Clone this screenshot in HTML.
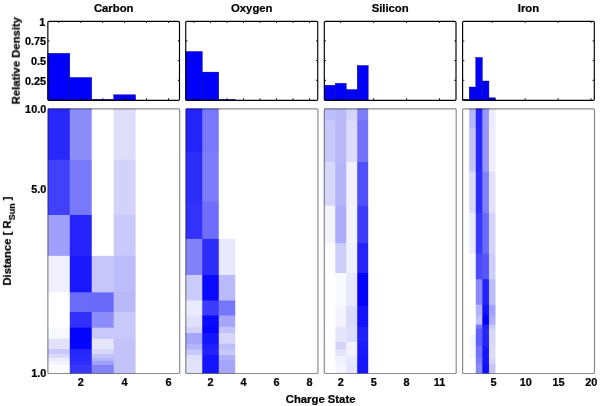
<!DOCTYPE html>
<html lang="en"><head><meta charset="utf-8"><title>Charge state distributions</title>
<style>html,body{margin:0;padding:0;background:#fff}body{width:600px;height:406px;overflow:hidden}svg{display:block}text{font-family:"Liberation Sans",Arial,Helvetica,sans-serif;font-weight:bold;fill:#000}.t{filter:blur(0.25px);stroke:#000;stroke-width:0.22px}</style>
</head><body>
<svg width="600" height="406" viewBox="0 0 600 406">
<defs><linearGradient id="gC0" x1="0" y1="0" x2="0" y2="1"><stop offset="0.0000" stop-color="#2828fa"/><stop offset="0.1921" stop-color="#2828fa"/><stop offset="0.1948" stop-color="#4141fa"/><stop offset="0.4007" stop-color="#4141fa"/><stop offset="0.4034" stop-color="#a0a0fa"/><stop offset="0.5545" stop-color="#a0a0fa"/><stop offset="0.5572" stop-color="#f0f0ff"/><stop offset="0.6929" stop-color="#f0f0ff"/><stop offset="0.6955" stop-color="#ffffff"/><stop offset="0.7673" stop-color="#ffffff"/><stop offset="0.7699" stop-color="#ffffff"/><stop offset="0.8258" stop-color="#ffffff"/><stop offset="0.8284" stop-color="#f8f8ff"/><stop offset="0.8677" stop-color="#f8f8ff"/><stop offset="0.8703" stop-color="#e1e1fa"/><stop offset="0.9066" stop-color="#e1e1fa"/><stop offset="0.9092" stop-color="#c8c8fa"/><stop offset="0.9254" stop-color="#c8c8fa"/><stop offset="0.9281" stop-color="#d7d7fa"/><stop offset="0.9394" stop-color="#d7d7fa"/><stop offset="0.9421" stop-color="#ebebff"/><stop offset="0.9519" stop-color="#ebebff"/><stop offset="0.9545" stop-color="#f5f5ff"/><stop offset="0.9670" stop-color="#f5f5ff"/><stop offset="0.9696" stop-color="#fafaff"/><stop offset="0.9994" stop-color="#fafaff"/></linearGradient><linearGradient id="gC1" x1="0" y1="0" x2="0" y2="1"><stop offset="0.0000" stop-color="#8c8cfa"/><stop offset="0.1921" stop-color="#8c8cfa"/><stop offset="0.1948" stop-color="#7878fa"/><stop offset="0.4007" stop-color="#7878fa"/><stop offset="0.4034" stop-color="#2323fa"/><stop offset="0.5545" stop-color="#2323fa"/><stop offset="0.5572" stop-color="#1919ff"/><stop offset="0.6929" stop-color="#1919ff"/><stop offset="0.6955" stop-color="#6c6cfa"/><stop offset="0.7673" stop-color="#6c6cfa"/><stop offset="0.7699" stop-color="#3030fa"/><stop offset="0.8258" stop-color="#3030fa"/><stop offset="0.8284" stop-color="#0505ff"/><stop offset="0.8677" stop-color="#0505ff"/><stop offset="0.8703" stop-color="#0505ff"/><stop offset="0.9066" stop-color="#0505ff"/><stop offset="0.9092" stop-color="#2323fa"/><stop offset="0.9254" stop-color="#2323fa"/><stop offset="0.9281" stop-color="#2828fa"/><stop offset="0.9394" stop-color="#2828fa"/><stop offset="0.9421" stop-color="#2828fa"/><stop offset="0.9519" stop-color="#2828fa"/><stop offset="0.9545" stop-color="#2d2dfa"/><stop offset="0.9670" stop-color="#2d2dfa"/><stop offset="0.9696" stop-color="#3737fa"/><stop offset="0.9994" stop-color="#3737fa"/></linearGradient><linearGradient id="gC2" x1="0" y1="0" x2="0" y2="1"><stop offset="0.0000" stop-color="#ffffff"/><stop offset="0.1921" stop-color="#ffffff"/><stop offset="0.1948" stop-color="#ffffff"/><stop offset="0.4007" stop-color="#ffffff"/><stop offset="0.4034" stop-color="#ffffff"/><stop offset="0.5545" stop-color="#ffffff"/><stop offset="0.5572" stop-color="#c6c6fa"/><stop offset="0.6929" stop-color="#c6c6fa"/><stop offset="0.6955" stop-color="#6969fa"/><stop offset="0.7673" stop-color="#6969fa"/><stop offset="0.7699" stop-color="#8c8cfa"/><stop offset="0.8258" stop-color="#8c8cfa"/><stop offset="0.8284" stop-color="#c8c8fa"/><stop offset="0.8677" stop-color="#c8c8fa"/><stop offset="0.8703" stop-color="#e6e6fa"/><stop offset="0.9066" stop-color="#e6e6fa"/><stop offset="0.9092" stop-color="#d7d7fa"/><stop offset="0.9254" stop-color="#d7d7fa"/><stop offset="0.9281" stop-color="#c3c3fa"/><stop offset="0.9394" stop-color="#c3c3fa"/><stop offset="0.9421" stop-color="#b4b4fa"/><stop offset="0.9519" stop-color="#b4b4fa"/><stop offset="0.9545" stop-color="#a0a0fa"/><stop offset="0.9670" stop-color="#a0a0fa"/><stop offset="0.9696" stop-color="#8282fa"/><stop offset="0.9994" stop-color="#8282fa"/></linearGradient><linearGradient id="gC3" x1="0" y1="0" x2="0" y2="1"><stop offset="0.0000" stop-color="#dedefa"/><stop offset="0.1921" stop-color="#dedefa"/><stop offset="0.1948" stop-color="#d2d2fa"/><stop offset="0.4007" stop-color="#d2d2fa"/><stop offset="0.4034" stop-color="#c8c8fa"/><stop offset="0.5545" stop-color="#c8c8fa"/><stop offset="0.5572" stop-color="#bcbcfa"/><stop offset="0.6929" stop-color="#bcbcfa"/><stop offset="0.6955" stop-color="#b9b9fa"/><stop offset="0.7673" stop-color="#b9b9fa"/><stop offset="0.7699" stop-color="#c8c8fa"/><stop offset="0.8258" stop-color="#c8c8fa"/><stop offset="0.8284" stop-color="#c8c8fa"/><stop offset="0.8677" stop-color="#c8c8fa"/><stop offset="0.8703" stop-color="#c3c3fa"/><stop offset="0.9066" stop-color="#c3c3fa"/><stop offset="0.9092" stop-color="#c3c3fa"/><stop offset="0.9254" stop-color="#c3c3fa"/><stop offset="0.9281" stop-color="#c3c3fa"/><stop offset="0.9394" stop-color="#c3c3fa"/><stop offset="0.9421" stop-color="#c3c3fa"/><stop offset="0.9519" stop-color="#c3c3fa"/><stop offset="0.9545" stop-color="#c3c3fa"/><stop offset="0.9670" stop-color="#c3c3fa"/><stop offset="0.9696" stop-color="#c3c3fa"/><stop offset="0.9994" stop-color="#c3c3fa"/></linearGradient><linearGradient id="gO0" x1="0" y1="0" x2="0" y2="1"><stop offset="0.0000" stop-color="#2323fa"/><stop offset="0.1619" stop-color="#2323fa"/><stop offset="0.1646" stop-color="#2d2dfa"/><stop offset="0.3488" stop-color="#2d2dfa"/><stop offset="0.3515" stop-color="#3232fa"/><stop offset="0.4904" stop-color="#3232fa"/><stop offset="0.4930" stop-color="#8282fa"/><stop offset="0.6272" stop-color="#8282fa"/><stop offset="0.6299" stop-color="#cbcbfa"/><stop offset="0.7235" stop-color="#cbcbfa"/><stop offset="0.7261" stop-color="#ebebff"/><stop offset="0.7801" stop-color="#ebebff"/><stop offset="0.7827" stop-color="#e1e1fa"/><stop offset="0.8226" stop-color="#e1e1fa"/><stop offset="0.8252" stop-color="#d2d2fa"/><stop offset="0.8462" stop-color="#d2d2fa"/><stop offset="0.8488" stop-color="#a5a5fa"/><stop offset="0.8867" stop-color="#a5a5fa"/><stop offset="0.8894" stop-color="#b4b4fa"/><stop offset="0.9085" stop-color="#b4b4fa"/><stop offset="0.9111" stop-color="#c8c8fa"/><stop offset="0.9292" stop-color="#c8c8fa"/><stop offset="0.9319" stop-color="#dedefa"/><stop offset="0.9481" stop-color="#dedefa"/><stop offset="0.9507" stop-color="#e2e2fa"/><stop offset="0.9994" stop-color="#e2e2fa"/></linearGradient><linearGradient id="gO1" x1="0" y1="0" x2="0" y2="1"><stop offset="0.0000" stop-color="#7878fa"/><stop offset="0.1619" stop-color="#7878fa"/><stop offset="0.1646" stop-color="#7d7dfa"/><stop offset="0.3488" stop-color="#7d7dfa"/><stop offset="0.3515" stop-color="#6e6efa"/><stop offset="0.4904" stop-color="#6e6efa"/><stop offset="0.4930" stop-color="#2d2dfa"/><stop offset="0.6272" stop-color="#2d2dfa"/><stop offset="0.6299" stop-color="#0a0aff"/><stop offset="0.7235" stop-color="#0a0aff"/><stop offset="0.7261" stop-color="#3c3cfa"/><stop offset="0.7801" stop-color="#3c3cfa"/><stop offset="0.7827" stop-color="#0a0aff"/><stop offset="0.8226" stop-color="#0a0aff"/><stop offset="0.8252" stop-color="#0505ff"/><stop offset="0.8462" stop-color="#0505ff"/><stop offset="0.8488" stop-color="#1414ff"/><stop offset="0.8867" stop-color="#1414ff"/><stop offset="0.8894" stop-color="#1e1efa"/><stop offset="0.9085" stop-color="#1e1efa"/><stop offset="0.9111" stop-color="#2323fa"/><stop offset="0.9292" stop-color="#2323fa"/><stop offset="0.9319" stop-color="#1414ff"/><stop offset="0.9481" stop-color="#1414ff"/><stop offset="0.9507" stop-color="#1414ff"/><stop offset="0.9994" stop-color="#1414ff"/></linearGradient><linearGradient id="gO2" x1="0" y1="0" x2="0" y2="1"><stop offset="0.0000" stop-color="#ffffff"/><stop offset="0.1619" stop-color="#ffffff"/><stop offset="0.1646" stop-color="#ffffff"/><stop offset="0.3488" stop-color="#ffffff"/><stop offset="0.3515" stop-color="#ffffff"/><stop offset="0.4904" stop-color="#ffffff"/><stop offset="0.4930" stop-color="#e8e8ff"/><stop offset="0.6272" stop-color="#e8e8ff"/><stop offset="0.6299" stop-color="#babafa"/><stop offset="0.7235" stop-color="#babafa"/><stop offset="0.7261" stop-color="#7676fa"/><stop offset="0.7801" stop-color="#7676fa"/><stop offset="0.7827" stop-color="#a5a5fa"/><stop offset="0.8226" stop-color="#a5a5fa"/><stop offset="0.8252" stop-color="#c3c3fa"/><stop offset="0.8462" stop-color="#c3c3fa"/><stop offset="0.8488" stop-color="#d7d7fa"/><stop offset="0.8867" stop-color="#d7d7fa"/><stop offset="0.8894" stop-color="#bebefa"/><stop offset="0.9085" stop-color="#bebefa"/><stop offset="0.9111" stop-color="#c8c8fa"/><stop offset="0.9292" stop-color="#c8c8fa"/><stop offset="0.9319" stop-color="#afaffa"/><stop offset="0.9481" stop-color="#afaffa"/><stop offset="0.9507" stop-color="#a5a5fa"/><stop offset="0.9994" stop-color="#a5a5fa"/></linearGradient><linearGradient id="gS0" x1="0" y1="0" x2="0" y2="1"><stop offset="0.0000" stop-color="#bebefa"/><stop offset="0.0440" stop-color="#bebefa"/><stop offset="0.0466" stop-color="#c8c8fa"/><stop offset="0.2006" stop-color="#c8c8fa"/><stop offset="0.2033" stop-color="#d7d7fa"/><stop offset="0.3658" stop-color="#d7d7fa"/><stop offset="0.3684" stop-color="#f5f5ff"/><stop offset="0.5074" stop-color="#f5f5ff"/><stop offset="0.5100" stop-color="#fdfdff"/><stop offset="0.6193" stop-color="#fdfdff"/><stop offset="0.6219" stop-color="#ffffff"/><stop offset="0.7433" stop-color="#ffffff"/><stop offset="0.7459" stop-color="#ffffff"/><stop offset="0.8226" stop-color="#ffffff"/><stop offset="0.8252" stop-color="#fdfdff"/><stop offset="0.8801" stop-color="#fdfdff"/><stop offset="0.8828" stop-color="#ffffff"/><stop offset="0.9085" stop-color="#ffffff"/><stop offset="0.9111" stop-color="#ffffff"/><stop offset="0.9339" stop-color="#ffffff"/><stop offset="0.9366" stop-color="#ffffff"/><stop offset="0.9575" stop-color="#ffffff"/><stop offset="0.9602" stop-color="#ffffff"/><stop offset="0.9994" stop-color="#ffffff"/></linearGradient><linearGradient id="gS1" x1="0" y1="0" x2="0" y2="1"><stop offset="0.0000" stop-color="#b9b9fa"/><stop offset="0.0440" stop-color="#b9b9fa"/><stop offset="0.0466" stop-color="#b9b9fa"/><stop offset="0.2006" stop-color="#b9b9fa"/><stop offset="0.2033" stop-color="#b4b4fa"/><stop offset="0.3658" stop-color="#b4b4fa"/><stop offset="0.3684" stop-color="#acacfa"/><stop offset="0.5074" stop-color="#acacfa"/><stop offset="0.5100" stop-color="#cdcdfa"/><stop offset="0.6193" stop-color="#cdcdfa"/><stop offset="0.6219" stop-color="#f8f8ff"/><stop offset="0.7433" stop-color="#f8f8ff"/><stop offset="0.7459" stop-color="#f3f3ff"/><stop offset="0.8226" stop-color="#f3f3ff"/><stop offset="0.8252" stop-color="#e4e4fa"/><stop offset="0.8801" stop-color="#e4e4fa"/><stop offset="0.8828" stop-color="#d4d4fa"/><stop offset="0.9085" stop-color="#d4d4fa"/><stop offset="0.9111" stop-color="#e4e4fa"/><stop offset="0.9339" stop-color="#e4e4fa"/><stop offset="0.9366" stop-color="#f0f0ff"/><stop offset="0.9575" stop-color="#f0f0ff"/><stop offset="0.9602" stop-color="#f5f5ff"/><stop offset="0.9994" stop-color="#f5f5ff"/></linearGradient><linearGradient id="gS2" x1="0" y1="0" x2="0" y2="1"><stop offset="0.0000" stop-color="#d4d4fa"/><stop offset="0.0440" stop-color="#d4d4fa"/><stop offset="0.0466" stop-color="#dcdcfa"/><stop offset="0.2006" stop-color="#dcdcfa"/><stop offset="0.2033" stop-color="#f0f0ff"/><stop offset="0.3658" stop-color="#f0f0ff"/><stop offset="0.3684" stop-color="#f4f4ff"/><stop offset="0.5074" stop-color="#f4f4ff"/><stop offset="0.5100" stop-color="#f2f2ff"/><stop offset="0.6193" stop-color="#f2f2ff"/><stop offset="0.6219" stop-color="#e8e8ff"/><stop offset="0.7433" stop-color="#e8e8ff"/><stop offset="0.7459" stop-color="#dadafa"/><stop offset="0.8226" stop-color="#dadafa"/><stop offset="0.8252" stop-color="#dedefa"/><stop offset="0.8801" stop-color="#dedefa"/><stop offset="0.8828" stop-color="#f3f3ff"/><stop offset="0.9085" stop-color="#f3f3ff"/><stop offset="0.9111" stop-color="#f3f3ff"/><stop offset="0.9339" stop-color="#f3f3ff"/><stop offset="0.9366" stop-color="#e8e8ff"/><stop offset="0.9575" stop-color="#e8e8ff"/><stop offset="0.9602" stop-color="#e4e4fa"/><stop offset="0.9994" stop-color="#e4e4fa"/></linearGradient><linearGradient id="gS3" x1="0" y1="0" x2="0" y2="1"><stop offset="0.0000" stop-color="#7d7dfa"/><stop offset="0.0440" stop-color="#7d7dfa"/><stop offset="0.0466" stop-color="#7373fa"/><stop offset="0.2006" stop-color="#7373fa"/><stop offset="0.2033" stop-color="#5050fa"/><stop offset="0.3658" stop-color="#5050fa"/><stop offset="0.3684" stop-color="#3c3cfa"/><stop offset="0.5074" stop-color="#3c3cfa"/><stop offset="0.5100" stop-color="#2323fa"/><stop offset="0.6193" stop-color="#2323fa"/><stop offset="0.6219" stop-color="#0505ff"/><stop offset="0.7433" stop-color="#0505ff"/><stop offset="0.7459" stop-color="#1212ff"/><stop offset="0.8226" stop-color="#1212ff"/><stop offset="0.8252" stop-color="#2020fa"/><stop offset="0.8801" stop-color="#2020fa"/><stop offset="0.8828" stop-color="#1c1cff"/><stop offset="0.9085" stop-color="#1c1cff"/><stop offset="0.9111" stop-color="#1919ff"/><stop offset="0.9339" stop-color="#1919ff"/><stop offset="0.9366" stop-color="#1616ff"/><stop offset="0.9575" stop-color="#1616ff"/><stop offset="0.9602" stop-color="#1414ff"/><stop offset="0.9994" stop-color="#1414ff"/></linearGradient><linearGradient id="gI1" x1="0" y1="0" x2="0" y2="1"><stop offset="0.0000" stop-color="#b4b4fa"/><stop offset="0.0719" stop-color="#b4b4fa"/><stop offset="0.0746" stop-color="#c3c3fa"/><stop offset="0.2365" stop-color="#c3c3fa"/><stop offset="0.2391" stop-color="#d9d9fa"/><stop offset="0.3920" stop-color="#d9d9fa"/><stop offset="0.3947" stop-color="#ebebff"/><stop offset="0.5464" stop-color="#ebebff"/><stop offset="0.5491" stop-color="#f8f8ff"/><stop offset="0.6435" stop-color="#f8f8ff"/><stop offset="0.6461" stop-color="#ffffff"/><stop offset="0.7393" stop-color="#ffffff"/><stop offset="0.7420" stop-color="#ffffff"/><stop offset="0.7801" stop-color="#ffffff"/><stop offset="0.7827" stop-color="#ffffff"/><stop offset="0.8145" stop-color="#ffffff"/><stop offset="0.8171" stop-color="#ffffff"/><stop offset="0.8296" stop-color="#ffffff"/><stop offset="0.8322" stop-color="#ffffff"/><stop offset="0.8522" stop-color="#ffffff"/><stop offset="0.8549" stop-color="#f6f6ff"/><stop offset="0.8949" stop-color="#f6f6ff"/><stop offset="0.8975" stop-color="#f8f8ff"/><stop offset="0.9402" stop-color="#f8f8ff"/><stop offset="0.9428" stop-color="#ffffff"/><stop offset="0.9613" stop-color="#ffffff"/><stop offset="0.9639" stop-color="#ffffff"/><stop offset="0.9994" stop-color="#ffffff"/></linearGradient><linearGradient id="gI2" x1="0" y1="0" x2="0" y2="1"><stop offset="0.0000" stop-color="#2323fa"/><stop offset="0.0719" stop-color="#2323fa"/><stop offset="0.0746" stop-color="#2828fa"/><stop offset="0.2365" stop-color="#2828fa"/><stop offset="0.2391" stop-color="#2d2dfa"/><stop offset="0.3920" stop-color="#2d2dfa"/><stop offset="0.3947" stop-color="#3939fa"/><stop offset="0.5464" stop-color="#3939fa"/><stop offset="0.5491" stop-color="#4b4bfa"/><stop offset="0.6435" stop-color="#4b4bfa"/><stop offset="0.6461" stop-color="#8a8afa"/><stop offset="0.7393" stop-color="#8a8afa"/><stop offset="0.7420" stop-color="#b2b2fa"/><stop offset="0.7801" stop-color="#b2b2fa"/><stop offset="0.7827" stop-color="#c0c0fa"/><stop offset="0.8145" stop-color="#c0c0fa"/><stop offset="0.8171" stop-color="#7878fa"/><stop offset="0.8296" stop-color="#7878fa"/><stop offset="0.8322" stop-color="#5f5ffa"/><stop offset="0.8522" stop-color="#5f5ffa"/><stop offset="0.8549" stop-color="#5f5ffa"/><stop offset="0.8949" stop-color="#5f5ffa"/><stop offset="0.8975" stop-color="#7373fa"/><stop offset="0.9402" stop-color="#7373fa"/><stop offset="0.9428" stop-color="#7d7dfa"/><stop offset="0.9613" stop-color="#7d7dfa"/><stop offset="0.9639" stop-color="#8989fa"/><stop offset="0.9994" stop-color="#8989fa"/></linearGradient><linearGradient id="gI3" x1="0" y1="0" x2="0" y2="1"><stop offset="0.0000" stop-color="#9696fa"/><stop offset="0.0719" stop-color="#9696fa"/><stop offset="0.0746" stop-color="#9696fa"/><stop offset="0.2365" stop-color="#9696fa"/><stop offset="0.2391" stop-color="#8080fa"/><stop offset="0.3920" stop-color="#8080fa"/><stop offset="0.3947" stop-color="#6b6bfa"/><stop offset="0.5464" stop-color="#6b6bfa"/><stop offset="0.5491" stop-color="#5555fa"/><stop offset="0.6435" stop-color="#5555fa"/><stop offset="0.6461" stop-color="#2323fa"/><stop offset="0.7393" stop-color="#2323fa"/><stop offset="0.7420" stop-color="#1212ff"/><stop offset="0.7801" stop-color="#1212ff"/><stop offset="0.7827" stop-color="#0000ff"/><stop offset="0.8145" stop-color="#0000ff"/><stop offset="0.8171" stop-color="#1e1efa"/><stop offset="0.8296" stop-color="#1e1efa"/><stop offset="0.8322" stop-color="#2828fa"/><stop offset="0.8522" stop-color="#2828fa"/><stop offset="0.8549" stop-color="#2323fa"/><stop offset="0.8949" stop-color="#2323fa"/><stop offset="0.8975" stop-color="#1414ff"/><stop offset="0.9402" stop-color="#1414ff"/><stop offset="0.9428" stop-color="#1414ff"/><stop offset="0.9613" stop-color="#1414ff"/><stop offset="0.9639" stop-color="#0f0fff"/><stop offset="0.9994" stop-color="#0f0fff"/></linearGradient><linearGradient id="gI4" x1="0" y1="0" x2="0" y2="1"><stop offset="0.0000" stop-color="#ebebff"/><stop offset="0.0719" stop-color="#ebebff"/><stop offset="0.0746" stop-color="#eeeeff"/><stop offset="0.2365" stop-color="#eeeeff"/><stop offset="0.2391" stop-color="#e2e2fa"/><stop offset="0.3920" stop-color="#e2e2fa"/><stop offset="0.3947" stop-color="#d4d4fa"/><stop offset="0.5464" stop-color="#d4d4fa"/><stop offset="0.5491" stop-color="#cdcdfa"/><stop offset="0.6435" stop-color="#cdcdfa"/><stop offset="0.6461" stop-color="#bebefa"/><stop offset="0.7393" stop-color="#bebefa"/><stop offset="0.7420" stop-color="#a3a3fa"/><stop offset="0.7801" stop-color="#a3a3fa"/><stop offset="0.7827" stop-color="#afaffa"/><stop offset="0.8145" stop-color="#afaffa"/><stop offset="0.8171" stop-color="#c8c8fa"/><stop offset="0.8296" stop-color="#c8c8fa"/><stop offset="0.8322" stop-color="#d7d7fa"/><stop offset="0.8522" stop-color="#d7d7fa"/><stop offset="0.8549" stop-color="#d7d7fa"/><stop offset="0.8949" stop-color="#d7d7fa"/><stop offset="0.8975" stop-color="#dcdcfa"/><stop offset="0.9402" stop-color="#dcdcfa"/><stop offset="0.9428" stop-color="#d5d5fa"/><stop offset="0.9613" stop-color="#d5d5fa"/><stop offset="0.9639" stop-color="#c6c6fa"/><stop offset="0.9994" stop-color="#c6c6fa"/></linearGradient></defs>
<rect x="0" y="0" width="600" height="406" fill="#fff"/>
<g>
<text class="t" x="113.67" y="11.85" font-size="11.3" text-anchor="middle">Carbon</text>
<rect x="47.85" y="108.50" width="22.94" height="264.90" fill="url(#gC0)"/>
<rect x="69.79" y="108.50" width="22.94" height="264.90" fill="url(#gC1)"/>
<rect x="91.73" y="108.50" width="22.94" height="264.90" fill="url(#gC2)"/>
<rect x="113.68" y="108.50" width="21.94" height="264.90" fill="url(#gC3)"/>
<rect x="47.85" y="108.80" width="131.85" height="264.70" fill="none" stroke="#000" stroke-opacity="0.45" stroke-width="1.2" rx="1.0"/>
<rect x="47.85" y="53.30" width="21.94" height="46.70" fill="#0000fb" stroke="#000078" stroke-width="0.4"/>
<rect x="69.79" y="77.50" width="21.94" height="22.50" fill="#0000fb" stroke="#000078" stroke-width="0.4"/>
<rect x="91.73" y="99.40" width="21.94" height="0.60" fill="#0000fb" stroke="#000078" stroke-width="0.4"/>
<rect x="113.68" y="94.80" width="21.94" height="5.20" fill="#0000fb" stroke="#000078" stroke-width="0.4"/>
<rect x="47.85" y="21.35" width="131.65" height="79.05" fill="none" stroke="#000" stroke-width="1.15" rx="1.2"/>
<path d="M58.82 100.00v-1.7M58.82 21.25v1.7M80.76 100.00v-1.7M80.76 21.25v1.7M102.70 100.00v-1.7M102.70 21.25v1.7M124.65 100.00v-1.7M124.65 21.25v1.7M146.59 100.00v-1.7M146.59 21.25v1.7M168.53 100.00v-1.7M168.53 21.25v1.7M47.85 80.31h1.7M179.50 80.31h-1.7M47.85 60.62h1.7M179.50 60.62h-1.7M47.85 40.94h1.7M179.50 40.94h-1.7" stroke="#000" stroke-width="0.95" fill="none"/>
<text class="t" x="80.76" y="385.6" font-size="10.9" text-anchor="middle">2</text>
<text class="t" x="124.65" y="385.6" font-size="10.9" text-anchor="middle">4</text>
<text class="t" x="168.53" y="385.6" font-size="10.9" text-anchor="middle">6</text>
</g>
<g>
<text class="t" x="251.75" y="11.85" font-size="11.3" text-anchor="middle">Oxygen</text>
<rect x="185.75" y="108.50" width="17.50" height="264.90" fill="url(#gO0)"/>
<rect x="202.25" y="108.50" width="17.50" height="264.90" fill="url(#gO1)"/>
<rect x="218.75" y="108.50" width="16.50" height="264.90" fill="url(#gO2)"/>
<rect x="185.75" y="108.80" width="132.20" height="264.70" fill="none" stroke="#000" stroke-opacity="0.45" stroke-width="1.2" rx="1.0"/>
<rect x="185.75" y="51.50" width="16.50" height="48.50" fill="#0000fb" stroke="#000078" stroke-width="0.4"/>
<rect x="202.25" y="72.10" width="16.50" height="27.90" fill="#0000fb" stroke="#000078" stroke-width="0.4"/>
<rect x="218.75" y="99.50" width="16.50" height="0.50" fill="#0000fb" stroke="#000078" stroke-width="0.4"/>
<rect x="185.75" y="21.35" width="132.00" height="79.05" fill="none" stroke="#000" stroke-width="1.15" rx="1.2"/>
<path d="M194.00 100.00v-1.7M194.00 21.25v1.7M210.50 100.00v-1.7M210.50 21.25v1.7M227.00 100.00v-1.7M227.00 21.25v1.7M243.50 100.00v-1.7M243.50 21.25v1.7M260.00 100.00v-1.7M260.00 21.25v1.7M276.50 100.00v-1.7M276.50 21.25v1.7M293.00 100.00v-1.7M293.00 21.25v1.7M309.50 100.00v-1.7M309.50 21.25v1.7M185.75 80.31h1.7M317.75 80.31h-1.7M185.75 60.62h1.7M317.75 60.62h-1.7M185.75 40.94h1.7M317.75 40.94h-1.7" stroke="#000" stroke-width="0.95" fill="none"/>
<text class="t" x="210.50" y="385.6" font-size="10.9" text-anchor="middle">2</text>
<text class="t" x="243.50" y="385.6" font-size="10.9" text-anchor="middle">4</text>
<text class="t" x="276.50" y="385.6" font-size="10.9" text-anchor="middle">6</text>
<text class="t" x="309.50" y="385.6" font-size="10.9" text-anchor="middle">8</text>
</g>
<g>
<text class="t" x="390.15" y="11.85" font-size="11.3" text-anchor="middle">Silicon</text>
<rect x="324.30" y="108.50" width="11.97" height="264.90" fill="url(#gS0)"/>
<rect x="335.28" y="108.50" width="11.97" height="264.90" fill="url(#gS1)"/>
<rect x="346.25" y="108.50" width="11.97" height="264.90" fill="url(#gS2)"/>
<rect x="357.23" y="108.50" width="10.97" height="264.90" fill="url(#gS3)"/>
<rect x="324.30" y="108.80" width="131.90" height="264.70" fill="none" stroke="#000" stroke-opacity="0.45" stroke-width="1.2" rx="1.0"/>
<rect x="324.30" y="85.20" width="10.97" height="14.80" fill="#0000fb" stroke="#000078" stroke-width="0.4"/>
<rect x="335.28" y="83.30" width="10.97" height="16.70" fill="#0000fb" stroke="#000078" stroke-width="0.4"/>
<rect x="346.25" y="89.50" width="10.97" height="10.50" fill="#0000fb" stroke="#000078" stroke-width="0.4"/>
<rect x="357.23" y="65.50" width="10.97" height="34.50" fill="#0000fb" stroke="#000078" stroke-width="0.4"/>
<rect x="324.30" y="21.35" width="131.70" height="79.05" fill="none" stroke="#000" stroke-width="1.15" rx="1.2"/>
<path d="M340.76 100.00v-1.7M340.76 21.25v1.7M373.69 100.00v-1.7M373.69 21.25v1.7M406.61 100.00v-1.7M406.61 21.25v1.7M439.54 100.00v-1.7M439.54 21.25v1.7M324.30 80.31h1.7M456.00 80.31h-1.7M324.30 60.62h1.7M456.00 60.62h-1.7M324.30 40.94h1.7M456.00 40.94h-1.7" stroke="#000" stroke-width="0.95" fill="none"/>
<text class="t" x="340.76" y="385.6" font-size="10.9" text-anchor="middle">2</text>
<text class="t" x="373.69" y="385.6" font-size="10.9" text-anchor="middle">5</text>
<text class="t" x="406.61" y="385.6" font-size="10.9" text-anchor="middle">8</text>
<text class="t" x="439.54" y="385.6" font-size="10.9" text-anchor="middle">11</text>
</g>
<g>
<text class="t" x="528.45" y="11.85" font-size="11.3" text-anchor="middle">Iron</text>
<rect x="469.19" y="108.50" width="7.58" height="264.90" fill="url(#gI1)"/>
<rect x="475.77" y="108.50" width="7.58" height="264.90" fill="url(#gI2)"/>
<rect x="482.36" y="108.50" width="7.58" height="264.90" fill="url(#gI3)"/>
<rect x="488.94" y="108.50" width="6.58" height="264.90" fill="url(#gI4)"/>
<rect x="462.60" y="108.80" width="131.90" height="264.70" fill="none" stroke="#000" stroke-opacity="0.45" stroke-width="1.2" rx="1.0"/>
<rect x="462.60" y="99.50" width="6.58" height="0.50" fill="#0000fb" stroke="#000078" stroke-width="0.4"/>
<rect x="469.19" y="87.00" width="6.58" height="13.00" fill="#0000fb" stroke="#000078" stroke-width="0.4"/>
<rect x="475.77" y="57.50" width="6.58" height="42.50" fill="#0000fb" stroke="#000078" stroke-width="0.4"/>
<rect x="482.36" y="81.00" width="6.58" height="19.00" fill="#0000fb" stroke="#000078" stroke-width="0.4"/>
<rect x="488.94" y="97.80" width="6.58" height="2.20" fill="#0000fb" stroke="#000078" stroke-width="0.4"/>
<rect x="462.60" y="21.35" width="131.70" height="79.05" fill="none" stroke="#000" stroke-width="1.15" rx="1.2"/>
<path d="M492.23 100.00v-1.7M492.23 21.25v1.7M525.16 100.00v-1.7M525.16 21.25v1.7M558.08 100.00v-1.7M558.08 21.25v1.7M591.01 100.00v-1.7M591.01 21.25v1.7M462.60 80.31h1.7M594.30 80.31h-1.7M462.60 60.62h1.7M594.30 60.62h-1.7M462.60 40.94h1.7M594.30 40.94h-1.7" stroke="#000" stroke-width="0.95" fill="none"/>
<text class="t" x="493.53" y="385.6" font-size="10.9" text-anchor="middle">5</text>
<text class="t" x="525.76" y="385.6" font-size="10.9" text-anchor="middle">10</text>
<text class="t" x="558.48" y="385.6" font-size="10.9" text-anchor="middle">15</text>
<text class="t" x="591.31" y="385.6" font-size="10.9" text-anchor="middle">20</text>
</g>
<text class="t" x="45.2" y="25.65" font-size="10.9" text-anchor="end">1</text>
<text class="t" x="46.1" y="45.34" font-size="10.9" text-anchor="end">0.75</text>
<text class="t" x="46.1" y="65.03" font-size="10.9" text-anchor="end">0.5</text>
<text class="t" x="46.1" y="84.71" font-size="10.9" text-anchor="end">0.25</text>
<text class="t" x="46.3" y="113.35" font-size="10.9" text-anchor="end">10.0</text>
<text class="t" x="46.3" y="192.90" font-size="10.9" text-anchor="end">5.0</text>
<text class="t" x="46.3" y="377.20" font-size="10.9" text-anchor="end">1.0</text>
<text class="t" transform="translate(19.8 60.6) rotate(-90)" font-size="11.3" text-anchor="middle">Relative Density</text>
<text class="t" transform="translate(10.9 241.1) rotate(-90)" font-size="11.3" text-anchor="middle">Distance [ R<tspan font-size="9" dy="4.2">Sun</tspan><tspan dy="-4.2"> ]</tspan></text>
<text class="t" x="320.6" y="402.6" font-size="11.3" text-anchor="middle">Charge State</text>
</svg>
</body></html>
